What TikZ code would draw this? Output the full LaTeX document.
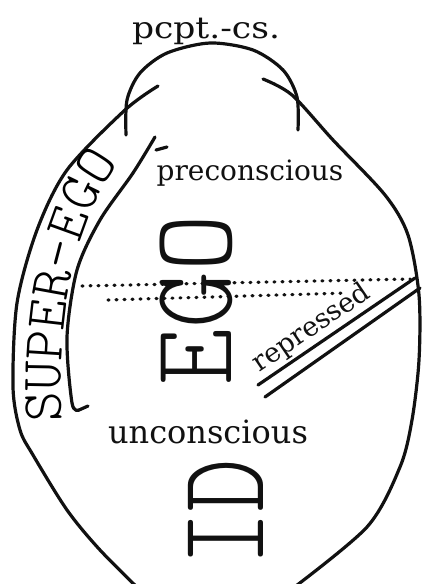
\documentclass[tikz,border=0pt]{standalone}
\usepackage{fontspec}
\usepackage{xcolor}
\usetikzlibrary{decorations.text}
\newfontfamily\labelfont{DejaVu Serif}
\newfontfamily\capsfont{lmmonolt10-regular.otf}
\definecolor{ink}{HTML}{111111}

\begin{document}
\begin{tikzpicture}[
  x=1pt, y=-1pt,
  contour/.style={draw=ink, line width=3.2pt, line cap=round, line join=round},
  dotline/.style={draw=ink, line width=3.2pt, line cap=round, dash pattern=on 1pt off 7pt},
  lbl/.style={text=ink, inner sep=0pt, font=\labelfont\fontsize{#1}{#1}\selectfont},
  big/.style={text=ink, inner sep=0pt, anchor=base, rotate=90, font=\capsfont\fontsize{#1}{#1}\selectfont}
]
\useasboundingbox (0,0) rectangle (422,584);
\clip (0,0) rectangle (422,584);

% outer wall of the apparatus
\draw[contour] plot[smooth] coordinates {(158,86) (125,110) (67,170) (37,230) (17,303) (13,387) (20,430) (33,455) (67,510) (100,550) (145,595)};
\draw[contour] plot[smooth] coordinates {(263,79) (292,95) (333,140) (385,195) (408,235) (419,295) (419,360) (412,420) (400,467) (367,527) (288,592)};

% pcpt.-cs. cap
\draw[contour] plot[smooth] coordinates {(126,135) (127,100) (140,73) (167,53) (210,43) (253,50) (283,70) (297,97) (298,130)};

% super-ego band
\draw[contour] plot[smooth] coordinates {(155,137) (133,173) (100,220) (77,270) (67,337) (72,403) (79,410)};
\draw[contour] (156,150) -- (167,147);
\draw[contour] (79,410) -- (88,406);

% dotted boundaries
\draw[dotline] (82,286) -- (410,279);
\draw[dotline] (108,300) -- (347,293);

% repressed
\draw[contour] (258,385) -- node[lbl=27, sloped, above=2pt, pos=0.4] (rep) {repressed} (415,278);
\draw[contour] (265,397) -- (420,288);

\node[lbl=30, xscale=1.15, anchor=base] (pcpt) at (206,38) {pcpt.-cs.};
\node[lbl=28, anchor=base] (precs) at (250,180) {preconscious};
\node[lbl=32, anchor=base] (uncs) at (208,443) {unconscious};
\node[big=115, xscale=0.94] (ego) at (231,300) {EGO};
\node[big=123, xscale=0.83] (id) at (263,512) {ID};
\path[decorate, decoration={text along path, text align=center,
  text={|\capsfont\fontsize{57}{57}\selectfont|SUPER-EGO}}]
  (63,448) .. controls (55,320) and (70,215) .. (136,142);
\end{tikzpicture}
\end{document}
